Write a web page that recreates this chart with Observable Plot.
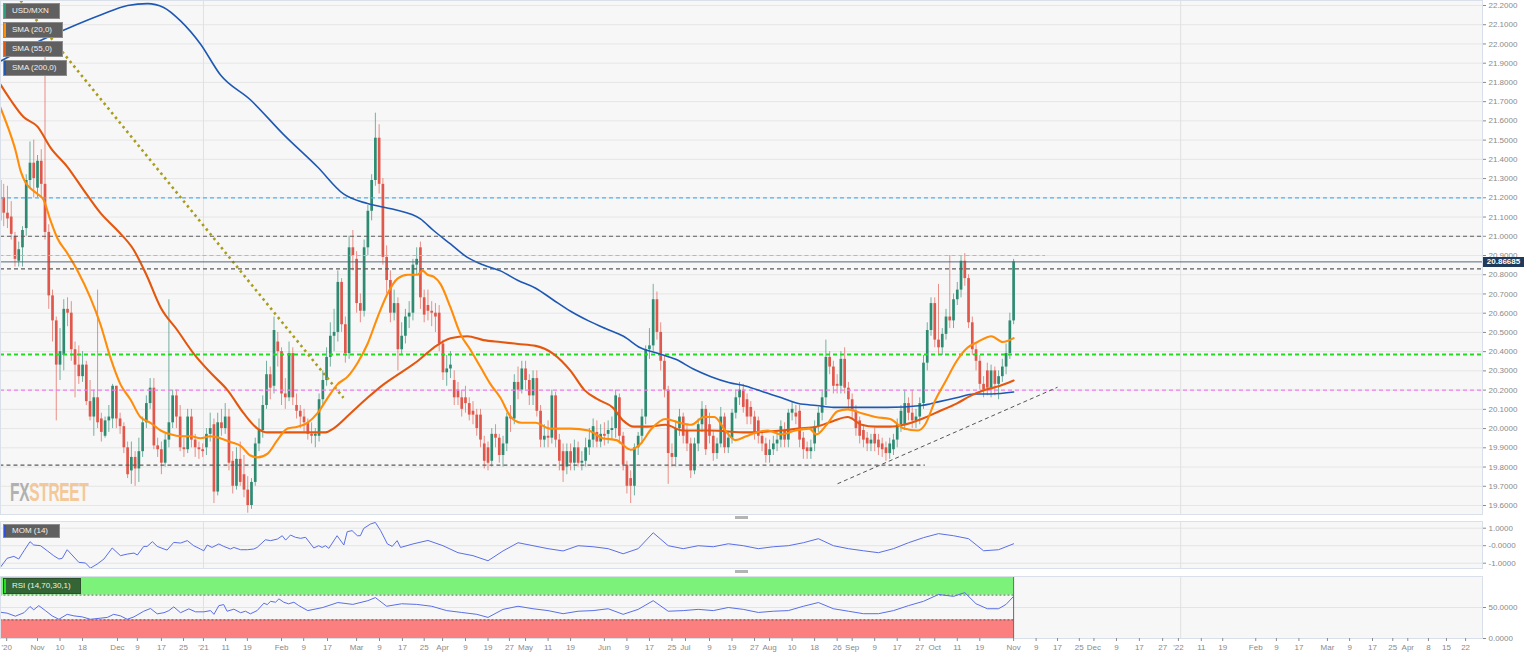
<!DOCTYPE html>
<html><head><meta charset="utf-8">
<script src="https://cdn.jsdelivr.net/npm/d3@7"></script>
<script src="https://cdn.jsdelivr.net/npm/@observablehq/plot@0.6"></script>
<style>
body{margin:0;background:#fff;font-family:"Liberation Sans",Arial,sans-serif;}
#wrap{position:relative;width:1536px;height:657px;overflow:hidden;background:#fff;}
.pl{position:absolute;left:0;}
.tag{position:absolute;left:3px;height:16px;line-height:14px;box-sizing:border-box;background:#606060;border:1px solid #8c8c8c;color:#f0f0f0;font-size:8px;padding:0 6px 0 8px;white-space:nowrap;}
.tag i{position:absolute;left:0;top:0;bottom:0;width:2px;}
.handle{position:absolute;left:735px;width:13px;height:3px;background:#b4b4b4;}
#price{position:absolute;left:1483px;width:41px;height:10px;line-height:10px;background:#1f3a5a;color:#fff;font-size:8px;font-weight:bold;text-align:center;}
#fx{position:absolute;left:10px;top:478px;font-family:"Liberation Sans",Arial,sans-serif;font-weight:bold;font-size:25px;letter-spacing:-0.5px;opacity:0.75;transform:scaleX(0.62);transform-origin:0 0;white-space:nowrap;}
</style></head>
<body><div id="wrap"></div>
<script>
// ---------- data ----------
const firstDay = -10, lastDay = 260;           // trading-day index, 0 = 2 Nov 2020
const open = [21.08,21.20,21.12,21.10,21.00,20.87,20.94,21.04,21.29,21.38,
21.25,21.39,21.27,21.02,20.69,20.56,20.33,20.38,20.62,20.60,
20.41,20.33,20.27,20.33,20.14,20.06,20.16,20.05,19.96,20.04,
20.05,20.22,20.05,20.01,19.90,19.78,19.85,19.79,19.88,20.03,
20.13,20.21,19.91,19.89,19.82,19.94,20.03,20.17,20.06,19.90,
19.89,20.06,19.94,19.90,19.89,19.90,19.97,20.02,19.67,20.03,
20.00,20.06,19.83,19.70,19.84,19.76,19.68,19.60,19.72,19.92,
19.99,20.12,20.28,20.22,20.45,20.40,20.18,20.16,20.39,20.12,
20.09,20.06,20.03,19.97,19.96,19.96,20.15,20.25,20.37,20.48,
20.50,20.76,20.54,20.39,20.94,20.88,20.65,20.61,20.94,21.13,
21.29,21.51,21.27,20.89,20.77,20.60,20.65,20.41,20.48,20.58,
20.60,20.85,20.94,20.68,20.64,20.61,20.60,20.60,20.44,20.29,
20.31,20.25,20.20,20.16,20.16,20.13,20.09,20.07,20.07,19.92,
19.90,19.83,19.97,19.95,19.86,19.92,20.06,20.05,20.24,20.20,
20.31,20.25,20.17,20.26,20.09,19.94,19.96,19.95,20.17,19.94,
19.88,19.80,19.88,19.82,19.90,19.82,19.83,19.90,19.94,19.98,
19.93,19.97,19.97,19.99,20.00,20.16,19.96,19.81,19.74,19.70,
19.90,19.96,20.06,20.41,20.43,20.67,20.50,20.35,20.20,19.87,
19.85,20.00,20.06,19.99,19.92,19.78,19.92,20.02,20.10,20.02,
19.96,19.87,19.92,20.06,19.90,19.95,20.08,20.16,20.20,20.15,
20.11,20.06,20.04,19.96,19.92,19.86,19.89,19.92,19.94,19.99,
19.94,20.08,20.08,20.09,19.95,19.90,19.88,19.92,20.01,20.08,
20.16,20.37,20.32,20.23,20.22,20.36,20.21,20.15,20.09,20.04,
19.99,19.95,19.92,19.97,19.94,19.92,19.90,19.87,19.89,19.94,
20.02,20.02,20.13,20.08,20.04,20.06,20.13,20.34,20.51,20.65,
20.46,20.42,20.49,20.58,20.56,20.67,20.72,20.87,20.78,20.55,
20.41,20.35,20.23,20.30,20.21,20.30,20.23,20.27,20.32,20.39,
20.56];
const high = [21.35,21.27,21.26,21.18,21.02,20.97,21.05,21.32,21.49,21.50,
21.42,21.45,21.93,21.06,20.72,20.58,20.52,20.67,20.68,20.66,
20.45,20.43,20.40,20.35,20.25,20.20,20.72,20.08,20.06,20.12,
20.23,20.22,20.08,20.03,19.93,19.93,19.88,19.95,20.06,20.17,
20.26,20.26,19.95,19.93,19.97,20.67,20.20,20.20,20.12,19.95,
20.10,20.10,19.97,19.93,19.92,20.00,20.08,20.05,20.08,20.10,
20.13,20.10,19.88,19.90,19.93,19.86,19.75,19.74,19.95,20.05,
20.17,20.35,20.32,20.58,20.50,20.42,20.26,20.45,20.42,20.18,
20.12,20.10,20.05,20.03,20.00,20.18,20.30,20.42,20.55,20.62,
20.82,20.78,20.58,21.00,21.03,20.92,20.70,20.98,21.16,21.32,
21.64,21.58,21.30,20.95,20.82,20.72,20.68,20.55,20.62,20.66,
20.88,20.94,20.97,20.72,20.72,20.66,20.65,20.64,20.46,20.38,
20.40,20.30,20.24,20.20,20.22,20.16,20.14,20.10,20.10,19.96,
19.93,20.00,20.02,19.97,19.96,20.08,20.12,20.28,20.32,20.35,
20.35,20.28,20.30,20.30,20.12,20.02,20.04,20.20,20.19,19.97,
19.92,19.92,19.92,19.94,19.93,19.88,19.95,20.00,20.05,20.04,
20.02,20.03,20.04,20.06,20.20,20.18,19.98,19.83,19.78,19.92,
19.98,20.10,20.43,20.52,20.75,20.71,20.55,20.38,20.22,19.92,
20.04,20.10,20.08,20.02,19.95,19.95,20.05,20.14,20.12,20.08,
19.99,19.95,20.11,20.08,19.98,20.10,20.20,20.24,20.23,20.18,
20.14,20.09,20.06,19.99,19.95,19.94,19.96,19.98,20.04,20.03,
20.10,20.14,20.12,20.12,19.98,19.93,19.94,20.04,20.11,20.20,
20.46,20.40,20.35,20.28,20.40,20.42,20.24,20.18,20.12,20.06,
20.02,19.98,19.97,20.00,19.97,19.95,19.93,19.95,19.97,20.05,
20.12,20.20,20.16,20.20,20.10,20.16,20.38,20.55,20.68,20.68,
20.75,20.52,20.62,20.90,20.70,20.76,20.90,20.91,20.80,20.58,
20.44,20.38,20.27,20.34,20.33,20.32,20.30,20.36,20.44,20.60,
20.88];
const low = [21.02,21.05,21.04,20.98,20.84,20.84,20.84,21.00,21.25,21.20,
21.20,21.20,20.98,20.62,20.45,20.04,20.25,20.30,20.53,20.35,
20.16,20.23,20.24,20.12,20.04,19.96,20.00,19.93,19.95,19.98,
20.00,20.00,19.97,19.87,19.74,19.71,19.70,19.72,19.85,20.00,
20.10,19.89,19.85,19.76,19.80,19.90,20.00,20.00,19.88,19.85,
19.87,19.90,19.85,19.84,19.85,19.86,19.93,19.61,19.65,19.96,
19.97,19.78,19.66,19.68,19.70,19.64,19.56,19.58,19.70,19.88,
19.95,20.10,20.15,20.18,20.32,20.12,20.10,20.14,20.12,20.05,
20.00,19.98,19.94,19.92,19.90,19.93,20.12,20.22,20.32,20.40,
20.45,20.50,20.34,20.36,20.82,20.60,20.55,20.58,20.90,21.08,
21.26,21.22,20.85,20.70,20.55,20.56,20.30,20.38,20.44,20.52,
20.56,20.80,20.62,20.55,20.56,20.53,20.50,20.40,20.25,20.22,
20.26,20.12,20.12,20.06,20.08,20.04,20.02,19.96,19.90,19.79,
19.78,19.80,19.90,19.82,19.80,19.88,19.98,20.02,20.15,20.18,
20.20,20.12,20.12,20.06,19.90,19.90,19.90,19.92,19.90,19.78,
19.72,19.76,19.78,19.78,19.80,19.78,19.80,19.86,19.90,19.90,
19.90,19.91,19.92,19.94,19.95,19.92,19.78,19.66,19.61,19.65,
19.86,19.92,20.02,20.36,20.40,20.46,20.30,20.16,19.71,19.80,
19.80,19.96,19.92,19.88,19.74,19.76,19.88,19.98,19.86,19.92,
19.83,19.84,19.90,19.87,19.87,19.92,20.05,20.12,20.08,20.02,
20.02,19.94,19.92,19.88,19.82,19.82,19.86,19.88,19.90,19.90,
19.90,20.04,20.02,19.90,19.84,19.84,19.84,19.88,19.98,20.04,
20.12,20.28,20.18,20.18,20.18,20.18,20.10,20.05,19.96,19.92,
19.90,19.88,19.88,19.88,19.86,19.85,19.83,19.84,19.86,19.90,
19.98,19.99,20.04,20.00,20.00,20.02,20.10,20.30,20.48,20.42,
20.38,20.38,20.46,20.52,20.52,20.64,20.68,20.74,20.52,20.38,
20.30,20.20,20.16,20.17,20.16,20.17,20.15,20.24,20.28,20.36,
20.54];
const close = [21.29,21.12,21.09,21.01,20.88,20.93,21.03,21.29,21.38,21.30,
21.39,21.27,21.02,20.69,20.56,20.33,20.40,20.62,20.60,20.41,
20.33,20.27,20.33,20.14,20.06,20.16,20.03,19.98,20.04,20.06,
20.22,20.05,20.01,19.90,19.76,19.85,19.79,19.88,20.03,20.13,
20.21,19.91,19.89,19.82,19.94,20.03,20.17,20.06,19.90,19.89,
20.06,19.94,19.90,19.89,19.88,19.97,20.00,19.67,20.03,20.00,
20.06,19.82,19.70,19.84,19.72,19.68,19.60,19.72,19.92,19.99,
20.12,20.28,20.21,20.51,20.40,20.18,20.16,20.39,20.16,20.09,
20.06,20.03,19.97,19.96,19.97,20.15,20.25,20.37,20.48,20.50,
20.76,20.54,20.39,20.94,20.90,20.65,20.61,20.94,21.13,21.29,
21.51,21.27,20.89,20.77,20.60,20.65,20.41,20.48,20.58,20.60,
20.85,20.88,20.68,20.59,20.61,20.60,20.58,20.44,20.29,20.31,
20.33,20.16,20.16,20.10,20.13,20.07,20.07,20.00,19.94,19.83,
19.82,19.97,19.95,19.86,19.92,20.06,20.05,20.24,20.20,20.31,
20.25,20.17,20.26,20.09,19.94,19.96,19.95,20.17,19.94,19.83,
19.78,19.88,19.82,19.90,19.82,19.83,19.90,19.94,20.01,19.93,
19.97,19.96,19.99,20.00,20.17,19.96,19.81,19.70,19.70,19.90,
19.96,20.06,20.41,20.43,20.67,20.50,20.35,20.20,19.87,19.85,
20.00,20.06,19.96,19.92,19.78,19.92,20.02,20.10,19.89,19.96,
19.87,19.92,20.06,19.90,19.95,20.08,20.16,20.20,20.11,20.06,
20.06,19.97,19.96,19.92,19.86,19.89,19.92,19.94,20.01,19.94,
20.08,20.10,20.06,19.94,19.89,19.88,19.90,20.01,20.08,20.16,
20.37,20.32,20.22,20.22,20.36,20.21,20.15,20.09,20.00,19.96,
19.94,19.92,19.94,19.92,19.90,19.89,19.87,19.92,19.94,20.02,
20.09,20.13,20.08,20.04,20.06,20.13,20.34,20.51,20.65,20.46,
20.42,20.49,20.58,20.56,20.67,20.72,20.87,20.78,20.55,20.41,
20.35,20.23,20.20,20.21,20.30,20.23,20.27,20.32,20.39,20.56,
20.86685];

const sma20Day = [-9.9,-7.2,-5.9,-4.5,-3.2,-1.9,0,1.6,3.5,5.3,8,10.7,14.1,16.8,19.4,22.1,24.8,27.4,30.1,32.8,35.4,38.1,40.8,43.4,46.1,48.7,51.4,54.1,56.7,58.6,61.3,63.9,66.6,69.3,71.9,74.6,77.3,79.9,82.6,85.2,87.9,90.6,93.2,95.9,98.6,101.2,102.6,103.9,105.5,107.4,110,112.7,115.3,118,120.7,123.3,126.1,128.9,132.7,136.4,142,146.8,150.5,154.2,158,160.6,163.6,167.3,171,174.2,177.5,180.3,183.2,185.9,188.8,191.5,194.5,198.2,201.9,205.6,207.5,210.2,213.1,215.8,219.5,223.2,227.1,230.8,234.5,236.4,239.2,242,244.8,247.7,250.4,254.1,257.1,260];
const sma20Val = [21.67,21.53,21.45,21.34,21.28,21.25,21.22,21.19,21.08,20.99,20.91,20.82,20.68,20.54,20.37,20.23,20.15,20.06,20.03,19.99,19.97,19.96,19.96,19.95,19.96,19.95,19.93,19.91,19.86,19.85,19.87,19.94,20.0,20.01,20.03,20.08,20.16,20.23,20.27,20.34,20.44,20.58,20.70,20.78,20.80,20.80,20.82,20.80,20.79,20.75,20.63,20.49,20.41,20.32,20.23,20.16,20.06,20.03,20.03,20.0,20.0,19.99,19.95,19.94,19.89,19.92,20.0,20.05,20.03,20.02,20.06,20.06,19.99,19.94,19.96,19.98,19.99,19.97,19.99,20.0,19.97,20.02,20.09,20.10,20.08,20.06,20.05,20.0,19.99,20.02,20.15,20.25,20.35,20.42,20.45,20.48,20.45,20.47];
const sma55Day = [-9.9,-7.2,-3.7,0,3.5,8,12.3,16.8,21.3,25.6,29,32.8,37.3,41.6,46.1,50.6,54.9,58.6,61.3,65.5,70,74.6,76.7,78.8,83.4,87.9,92.2,96.7,101.2,105.5,110,114.5,118.8,123.3,128,132.7,137.3,142,145.7,149.4,153.2,156.1,158.8,162.5,167.3,171.8,179.4,188.8,198.2,202.7,207.5,212,215.8,219.5,223.2,227.1,230.8,235.5,240.2,244.8,248.5,252.3,256,260];
const sma55Val = [21.79,21.71,21.62,21.57,21.46,21.36,21.24,21.12,21.03,20.93,20.80,20.63,20.51,20.39,20.29,20.20,20.08,20.0,19.98,19.98,19.98,19.98,19.98,20.0,20.08,20.16,20.23,20.29,20.35,20.42,20.47,20.48,20.46,20.45,20.44,20.43,20.39,20.30,20.20,20.15,20.11,20.04,20.01,20.01,20.02,19.99,19.99,19.98,19.99,20.0,20.01,20.04,20.06,20.02,20.01,20.01,20.02,20.05,20.09,20.13,20.17,20.20,20.22,20.25];
const sma200Day = [-9.9,-1.1,8,16.8,24,29.3,33.6,38.1,43.4,48.7,56.7,65.5,74.6,81.5,87.9,94.8,102,105.5,110,114.5,118.8,123.3,128,132.7,137.3,142,146.8,151.3,156.1,160.6,165.4,170,174.7,179.4,184.1,188.8,193.4,198.2,202.7,207.5,212,226.2,235.5,240.2,244.8,249.5,254.1,260];
const sma200Val = [21.91,22.0,22.08,22.15,22.2,22.21,22.19,22.12,22.0,21.84,21.71,21.53,21.36,21.22,21.17,21.14,21.09,21.03,20.96,20.89,20.85,20.82,20.77,20.73,20.67,20.61,20.56,20.52,20.48,20.42,20.39,20.36,20.31,20.27,20.24,20.22,20.19,20.16,20.13,20.12,20.11,20.11,20.12,20.14,20.16,20.18,20.18,20.19];

const momDay = [-9.9,-8.1,-6.3,-5,-3.6,-2,-1,0.8,2.6,4.3,5.7,6.6,7.9,9.2,11,12.8,14.1,15.9,17.7,19.9,22.1,23.9,25.7,26.6,28.3,29.2,30.6,31.9,33.7,34.5,36.3,38.1,39.9,41.6,43.4,44.3,45.2,46.5,48.3,49.6,51.4,52.3,54.1,55.9,57.6,58.5,60.7,62.1,63.9,65.2,66.1,67.4,68.7,70.1,71.4,73.6,74.9,75.8,76.7,77.6,79.8,81.6,82.5,83.8,85.2,86,86.9,88.7,90,91.4,93.2,94.5,95.8,96.7,
100,104,108,112,116,120,124,128,132,136,140,144,148,152,156,160,164,168,172,176,180,184,188,192,196,200,204,208,212,216,220,224,228,232,236,240,244,248,252,256,260];
const momVal = [-1.24,-0.72,-0.61,-0.76,-0.29,0.23,0.04,0,-0.29,-0.57,-0.76,-0.72,-0.23,-0.53,-0.95,-0.99,-1.28,-1.05,-0.76,-0.13,-0.57,-0.48,-0.42,-0.53,-0.04,-0.04,0.23,-0.04,-0.19,-0.25,0.19,0.15,0.29,0,-0.19,-0.29,0.04,-0.1,0.1,-0.04,-0.19,-0.1,-0.23,-0.23,-0.19,-0.1,0.34,0.29,0.38,0.57,0.32,0.61,0.48,0.42,0.48,-0.13,0,-0.1,0,-0.15,0.57,0.04,0.8,0.86,0.57,0.57,0.99,1.24,1.33,0.86,0.1,-0.04,0.29,-0.1,
0.1,0.3,0,-0.4,-0.57,-0.86,-0.3,0.17,0,-0.17,-0.3,0,-0.06,-0.17,-0.46,-0.17,0.74,0,-0.17,0,-0.06,0.11,0,-0.17,-0.06,0,0.17,0.4,0,-0.17,-0.29,-0.4,-0.17,0.17,0.46,0.69,0.57,0.4,-0.29,-0.23,0.11];
const rsiDay = [-9.9,-8.1,-5.9,-3.6,-2,-1,0.35,2.1,3.9,5.7,7.9,9.7,11.9,14.1,16.8,18.6,20.3,22.1,23.9,25.7,28.3,30.1,31.9,33.7,35,36.3,38.1,40.3,42.1,44.3,46.1,47,48.3,49.6,50.5,52.3,54.1,55.4,56.7,58.5,60.3,61.2,62.1,63.4,64.3,65.6,66.9,68.3,69.6,
72,76,80,84,88,90,93,97,101,105,109,113,117,120,124,128,132,136,140,144,148,152,156,160,164,168,172,176,180,184,188,192,196,200,204,208,212,216,220,224,228,232,236,240,244,247,250,253,256,258,260];
const rsiVal = [42.4,40.9,36,41.6,51.6,46.3,53,45,36.5,31,39,36.5,34.9,31,32.8,34,39,36.5,31,34.9,44,48.4,39.8,41.6,45,51,41.6,47.8,43,43,45,39,53,54.7,44,47.3,41.6,44,39.8,45,57,54.7,60,58.5,63.9,58.5,55.9,58.5,53,
45,50,58,55,61,66,52,56,55,52,45,42,39,34,47,52,48,45,40,44,45,48,39,47,61,44,45,47,45,50,47,42,44,45,52,58,48,44,40,40,45,53,60,71,68,74,56,48,48,55,68];

// horizontal levels and trend lines (price, day index)
const blueLevel = 21.2, darkLevels = [21.0, 20.83], lightLevel = 20.9, lightLevelEnd = 268.5;
const greenLevel = 20.385, pinkLevel = 20.2, supportLevel = 19.81, supportLevelEnd = 236.5;
const downTrend = [{d1: -4.5, v1: 22.226, d2: 81.5, v2: 20.16}];
const upTrend = [{d1: 213.1, v1: 19.713, d2: 271.7, v2: 20.215}];

const priceTicks = [19.6,19.7,19.8,19.9,20.0,20.1,20.2,20.3,20.4,20.5,20.6,20.7,20.8,20.9,21.0,21.1,21.2,21.3,21.4,21.5,21.6,21.7,21.8,21.9,22.0,22.1,22.2];
const momTicks = [-1, 0, 1];
const rsiTicks = [0, 50];
const yearStarts = [44.2, 304.5];
const tickDay = [-8.2,0,6,12,21.3,26.6,33,38.9,44.2,50.1,55.9,65,70.9,77.25,85,91.1,97.2,103,107.9,114,120,125.7,130,136,142,151,157,163,169,172.6,179,185,191,195,201,207,213,217,223,229,235,239,245,251,260,266,271.7,277.5,281.4,287.4,293.5,299.7,303.9,310,315.7,324.5,330,336,343.6,349.5,355.6,361,365,370.5,375.3,380.4];
const tickLab = ["'20","Nov","10","18","Dec","9","17","25","'21","11","19","Feb","9","17","Mar","9","17","25","Apr","9","19","27","May","11","19","Jun","9","17","25","Jul","9","19","27","Aug","10","18","26","Sep","9","17","27","Oct","11","19","Nov","9","17","25","Dec","9","17","27","'22","11","19","Feb","9","17","Mar","9","17","25","Apr","8","15","22"];

// ---------- build ----------
const UP = "#2e8b72", DOWN = "#e0584c";
const candles = d3.range(firstDay, lastDay + 1).map((d, k) => ({d, o: open[k], h: high[k], l: low[k], c: close[k]}));
const pairs = (a, b) => a.map((d, k) => ({d, v: b[k]}));
const lastPrice = close[close.length - 1];
const labelOf = new Map(tickDay.map((d, k) => [d, tickLab[k]]));

const W = 1536, MR = 54;
const X = {domain: [-9.856, 384.9], range: [0, W - MR], axis: null, label: null};
const FONT = "'Liberation Sans', Arial, sans-serif";
const st = {background: "transparent", fontFamily: FONT, fontSize: "8px", overflow: "visible"};
const AX = {anchor: "right", tickSize: 3, tickPadding: 3, fontSize: 8, color: "#8a8a8a", label: null};
const dash = "4,3";

const main = Plot.plot({
  width: W, height: 514, marginLeft: 0, marginRight: MR, marginTop: 0, marginBottom: 0,
  style: st,
  x: X,
  y: {domain: [19.6, 22.2], range: [505, 5], axis: null, label: null},
  marks: [
    Plot.frame({fill: "#f7f7f7", stroke: null}),
    Plot.ruleY(priceTicks, {stroke: "#e6e6e6"}),
    Plot.ruleX(yearStarts, {stroke: "#e0e0e0"}),
    Plot.ruleX(candles, {x: "d", y1: "l", y2: "h", stroke: d => d.c >= d.o ? UP : DOWN, strokeOpacity: 0.65, strokeWidth: 1, clip: true}),
    Plot.ruleX(candles, {x: "d", y1: "o", y2: "c", stroke: d => d.c >= d.o ? UP : DOWN, strokeWidth: 2.7, clip: true}),
    Plot.ruleY([blueLevel], {stroke: "#4fb2f5", strokeWidth: 1.2, strokeDasharray: dash}),
    Plot.ruleY(darkLevels, {stroke: "#5c5c5c", strokeWidth: 1.2, strokeDasharray: dash}),
    Plot.ruleY([{v: lightLevel, a: firstDay, b: lightLevelEnd}], {y: "v", x1: "a", x2: "b", stroke: "#b8b8b8", strokeWidth: 1.2, strokeDasharray: dash, clip: true}),
    Plot.ruleY([greenLevel], {stroke: "#1fdc1f", strokeWidth: 2, strokeDasharray: dash}),
    Plot.ruleY([pinkLevel], {stroke: "#ee7ef0", strokeWidth: 1.2, strokeDasharray: dash}),
    Plot.ruleY([{v: supportLevel, a: firstDay, b: supportLevelEnd}], {y: "v", x1: "a", x2: "b", stroke: "#5c5c5c", strokeWidth: 1.2, strokeDasharray: dash, clip: true}),
    Plot.link(downTrend, {x1: "d1", y1: "v1", x2: "d2", y2: "v2", stroke: "#a89c1c", strokeWidth: 2.6, strokeDasharray: "2.5,3.5", clip: true}),
    Plot.link(upTrend, {x1: "d1", y1: "v1", x2: "d2", y2: "v2", stroke: "#555", strokeWidth: 1, strokeDasharray: "4,3"}),
    Plot.line(pairs(sma200Day, sma200Val), {x: "d", y: "v", stroke: "#1d58b3", strokeWidth: 1.6, curve: "monotone-x", clip: true}),
    Plot.line(pairs(sma55Day, sma55Val), {x: "d", y: "v", stroke: "#e4570e", strokeWidth: 2.1, curve: "monotone-x", clip: true}),
    Plot.line(pairs(sma20Day, sma20Val), {x: "d", y: "v", stroke: "#ff8d0a", strokeWidth: 2.1, curve: "monotone-x", clip: true}),
    Plot.ruleY([lastPrice], {stroke: "#56677a", strokeWidth: 1}),
    Plot.frame({stroke: "#d9e0ea"}),
    Plot.axisY(priceTicks, {...AX, tickFormat: d => d.toFixed(4)})
  ]
});

const mom = Plot.plot({
  width: W, height: 56, marginLeft: 0, marginRight: MR, marginTop: 6, marginBottom: 3,
  style: st,
  x: X,
  y: {domain: [-1, 1], range: [47.7, 12.7], axis: null, label: null},
  marks: [
    Plot.frame({fill: "#f7f7f7", stroke: null}),
    Plot.ruleY(momTicks, {stroke: "#e4e4e4"}),
    Plot.ruleX(yearStarts, {stroke: "#e0e0e0"}),
    Plot.line(pairs(momDay, momVal), {x: "d", y: "v", stroke: "#5a6fe8", strokeWidth: 1, clip: true}),
    Plot.frame({stroke: "#d9e0ea"}),
    Plot.axisY(momTicks, {...AX, tickFormat: d => (d === 0 ? "-0.0000" : d.toFixed(4))})
  ]
});

const rsi = Plot.plot({
  width: W, height: 83, marginLeft: 0, marginRight: MR, marginTop: 2, marginBottom: 19,
  style: st,
  x: X,
  y: {domain: [0, 100], range: [64, 2], axis: null, label: null},
  marks: [
    Plot.frame({fill: "#f7f7f7", stroke: null}),
    Plot.ruleY([50], {stroke: "#e4e4e4"}),
    Plot.ruleX(yearStarts, {stroke: "#e0e0e0"}),
    Plot.rect([{a: firstDay, b: lastDay, y1: 70, y2: 100}], {x1: "a", x2: "b", y1: "y1", y2: "y2", fill: "#7df27b", clip: true}),
    Plot.rect([{a: firstDay, b: lastDay, y1: 0, y2: 30}], {x1: "a", x2: "b", y1: "y1", y2: "y2", fill: "#fc7f7f", clip: true}),
    Plot.ruleY([{v: 70, a: firstDay, b: lastDay}, {v: 30, a: firstDay, b: lastDay}], {y: "v", x1: "a", x2: "b", stroke: "#3c3c3c", strokeWidth: 0.8, strokeDasharray: "2,2", clip: true}),
    Plot.ruleX([lastDay], {y1: 0, y2: 100, stroke: "#444", strokeWidth: 0.8}),
    Plot.line(pairs(rsiDay, rsiVal), {x: "d", y: "v", stroke: "#5a6fe8", strokeWidth: 1, clip: true}),
    Plot.frame({stroke: "#d9e0ea"}),
    Plot.axisY(rsiTicks, {...AX, tickFormat: d => d.toFixed(4)}),
    Plot.axisX(tickDay, {anchor: "bottom", tickSize: 3, tickPadding: 3, fontSize: 8, color: "#8a8a8a", label: null, tickFormat: d => labelOf.get(d)})
  ]
});

const wrap = document.getElementById("wrap");
function place(el, top) { el.classList.add("pl"); el.style.top = top + "px"; wrap.appendChild(el); }
place(main, 0);
place(mom, 515);
place(rsi, 574);

function div(cls, html, css) { const e = document.createElement("div"); e.className = cls; e.innerHTML = html; Object.assign(e.style, css || {}); wrap.appendChild(e); return e; }
div("tag", '<i style="background:#2e9b7a"></i>USD/MXN', {top: "3px", width: "57px"});
div("tag", '<i style="background:#ff8d0a"></i>SMA (20,0)', {top: "22px", width: "60px"});
div("tag", '<i style="background:#e4570e"></i>SMA (55,0)', {top: "41px", width: "60px"});
div("tag", '<i style="background:#1d58b3"></i>SMA (200,0)', {top: "60px", width: "64px"});
div("tag", '<i style="background:#3050e0"></i>MOM (14)', {top: "524px", width: "57px", height: "14px", lineHeight: "12px"});
div("tag", '<i style="background:#22e022"></i>RSI (14,70,30,1)', {top: "578px", width: "78px", background: "#346534", borderColor: "#2a4f2a"});
div("handle", "", {top: "516px"});
div("handle", "", {top: "570px"});
div("", '<span style="color:#9a9a9a">FX</span><span style="color:#f3b978">STREET</span>', {}).id = "fx";
const py = main.scale("y").apply(lastPrice);
div("", lastPrice.toFixed(5), {top: (py - 4.5) + "px"}).id = "price";
</script>
</body></html>
